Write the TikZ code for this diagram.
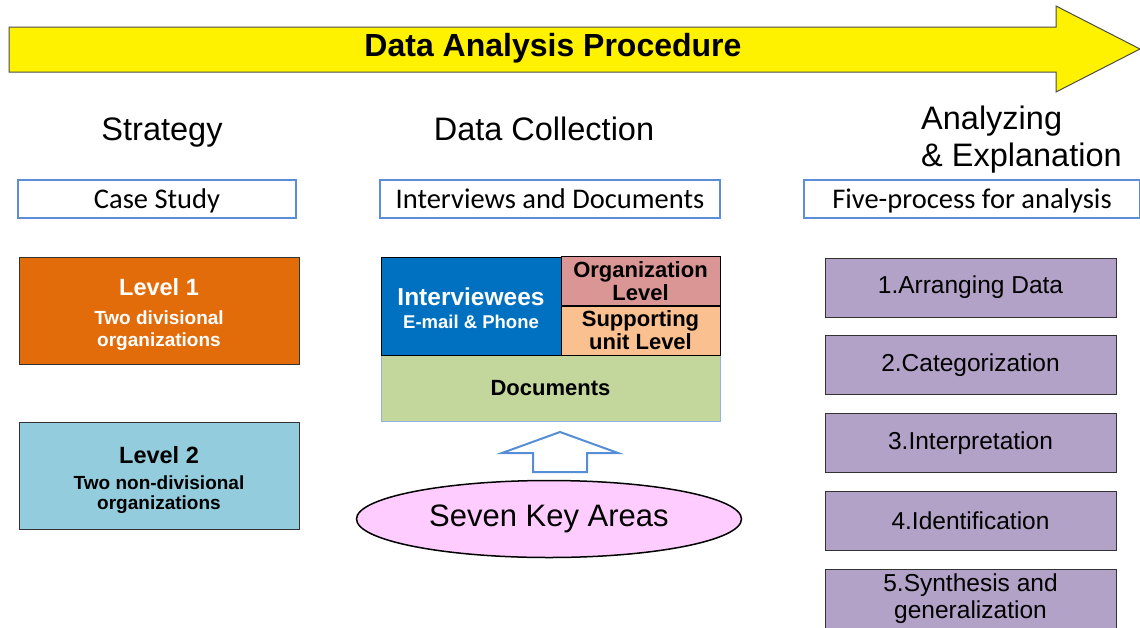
\documentclass[tikz,border=0pt]{standalone}
\usepackage{fontspec}
\setmainfont{Liberation Sans}
\newfontfamily\calibri{Carlito}
\usetikzlibrary{shapes.geometric}

\definecolor{frameblue}{HTML}{5B8ED6}
\definecolor{levelorange}{HTML}{E36C0A}
\definecolor{levelblue}{HTML}{93CDDD}
\definecolor{intblue}{HTML}{0070C0}
\definecolor{orgrose}{HTML}{D99694}
\definecolor{unitpeach}{HTML}{FAC090}
\definecolor{docgreen}{HTML}{C3D69B}
\definecolor{docborder}{HTML}{8EB4E3}
\definecolor{procpurple}{HTML}{B3A2C7}
\definecolor{keypink}{HTML}{FFCCFF}
\definecolor{arrowblue}{HTML}{558ED5}

\begin{document}
\begin{tikzpicture}
  [x=1pt,y=-1pt,every node/.style={inner sep=0pt,align=center},
   colhead/.style={font=\fontsize{32.5}{37}\selectfont},
   headbox/.style={draw=frameblue,line width=1.6pt,fill=white,minimum height=38pt,text height=25pt,text depth=6pt,font=\calibri\fontsize{28.5}{30}\selectfont},
   levelbox/.style={draw=black!80,line width=0.8pt,minimum width=280pt,minimum height=107pt,font=\bfseries\fontsize{19}{22}\selectfont},
   cellbox/.style={draw=black,line width=1pt,font=\bfseries\fontsize{22}{23}\selectfont},
   procbox/.style={draw=black!80,line width=1pt,fill=procpurple,minimum width=291pt,minimum height=59pt,font=\fontsize{24.5}{27}\selectfont}]
  \useasboundingbox (0,0) rectangle (1140,627);
  % big arrow
  \draw[draw=black!70,line width=1pt,fill=yellow] (9,27) -- (1056,27) -- (1056,6) -- (1140,49)
    -- (1056,92) -- (1056,72) -- (9,72) -- cycle;
  \node[font=\bfseries\fontsize{32}{35}\selectfont] (title) at (553,48) {Data Analysis Procedure};
  % columns
  \node[colhead,anchor=base] (strategy) at (162,140) {Strategy};
  \node[colhead,anchor=base] (collect) at (544,140) {Data Collection};
  \node[colhead,anchor=west,align=left] (analyze) at (921,140) {Analyzing\\\& Explanation};
  \node[headbox,minimum width=278pt] (case) at (157,199) {Case Study};
  \node[headbox,minimum width=340pt] (interviews) at (550,199) {Interviews and Documents};
  \node[headbox,minimum width=336pt] (fiveproc) at (972,199) {Five-process for analysis};
  % strategy
  \node[levelbox,fill=levelorange,text=white] (lvl1) at (159,311)
    {\rule{0pt}{25pt}{\fontsize{23.5}{26}\selectfont Level 1}\\[7pt]Two divisional\\organizations};
  \node[levelbox,fill=levelblue,font=\bfseries\fontsize{19}{20}\selectfont] (lvl2) at (159,475.5)
    {\rule{0pt}{27pt}{\fontsize{23.5}{26}\selectfont Level 2}\\[6pt]Two non-divisional\\organizations};
  % data collection
  \node[cellbox,draw=docborder,fill=docgreen,minimum width=339pt,minimum height=66pt] (docs) at (550.5,388) {Documents};
  \node[cellbox,fill=intblue,text=white,minimum width=180pt,minimum height=98pt] (interviewees) at (471,306)
    {\rule{0pt}{22pt}{\fontsize{24.5}{26}\selectfont Interviewees}\\{\fontsize{18.5}{20}\selectfont E-mail \& Phone}};
  \node[cellbox,fill=orgrose,minimum width=159pt,minimum height=49pt] (orglevel) at (640.5,281) {Organization\\Level};
  \node[cellbox,fill=unitpeach,minimum width=159pt,minimum height=49pt] (unitlevel) at (640.5,330.5) {Supporting\\unit Level};
  \draw[draw=arrowblue,line width=2pt,fill=white] (560,432) -- (618,453) -- (587,453) -- (587,472)
    -- (533,472) -- (533,453) -- (502,453) -- cycle;
  \node[ellipse,draw,line width=1.5pt,fill=keypink,minimum width=385pt,minimum height=77pt,font=\fontsize{31}{32}\selectfont] (keys) at (549,519) {Seven Key Areas};
  % analysis
  \foreach \i/\txt in {1/1.Arranging Data,2/2.Categorization,3/3.Interpretation,4/4.Identification,5/{5.Synthesis and\\generalization}}
    \node[procbox] (proc\i) at (970.5,{287.5+77.8*(\i-1)}) {\txt};
\end{tikzpicture}
\end{document}
